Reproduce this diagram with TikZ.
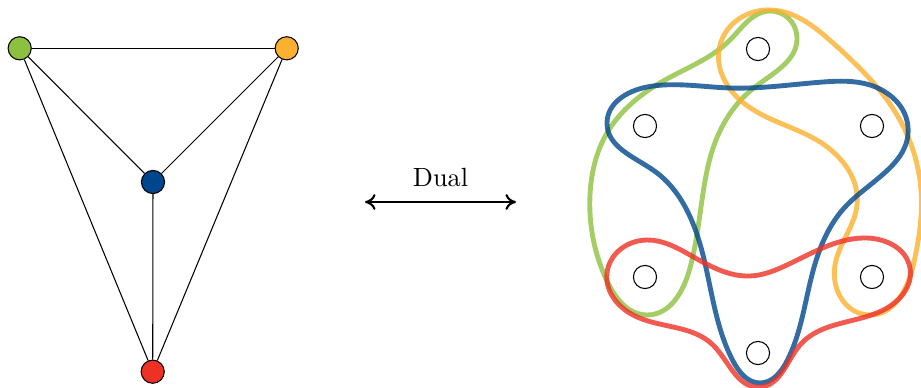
\documentclass[tikz,border=0pt]{standalone}
\usetikzlibrary{arrows.meta,hobby}
\definecolor{cgreen}{RGB}{141,192,63}
\definecolor{corange}{RGB}{251,176,48}
\definecolor{cblue}{RGB}{0,70,140}
\definecolor{cred}{RGB}{238,49,36}
\tikzset{
  vert/.style={circle,draw=black,line width=0.4pt,minimum size=8.8pt,inner sep=0pt},
  gedge/.style={line width=0.4pt,draw=black},
  hedge/.style={line width=1.85pt,draw opacity=0.8,line join=round,use Hobby shortcut,closed=true},
}
\begin{document}
\begin{tikzpicture}[x=0.38pt,y=-0.38pt]
\useasboundingbox (0,0) rectangle (921,388);
% left graph
\node[vert,fill=cgreen] (g) at (19.7,48.3) {};
\node[vert,fill=corange] (o) at (286.7,48.3) {};
\node[vert,fill=cblue] (b) at (153,182) {};
\node[vert,fill=cred] (r) at (152.7,371.7) {};
\draw[gedge] (g) -- (o);
\draw[gedge] (g) -- (b);
\draw[gedge] (g) -- (r);
\draw[gedge] (o) -- (b);
\draw[gedge] (o) -- (r);
\draw[gedge] (b) -- (r);
% arrow
\coordinate (al) at (365,202);
\coordinate (ar) at (516,202);
\draw[line width=0.8pt,{To[length=4pt,width=6pt]}-{To[length=4pt,width=6pt]}] (al) -- node[above=2pt,font=\normalsize] {Dual} (ar);
% hyperedges
\draw[hedge,draw=cgreen] (770,11) .. (797,37) .. (755,87) .. (716,140) .. (702,200)
 .. (690,268) .. (647,315) .. (607,281) .. (590,195) .. (607,133) .. (665,80) .. (730,40);
\draw[hedge,draw=corange] (772,10) .. (720,45) .. (740,100) .. (820,142) .. (857,205)
 .. (835,265) .. (870,315) .. (914,262) .. (921,190) .. (897,115) .. (833,43);
\draw[hedge,draw=cblue] (607,123) .. (653,170) .. (703,255) .. (733,361) .. (760,383)
 .. (787,361) .. (813,271) .. (847,205) .. (908,127) .. (870,85) .. (823,82)
 .. (730,88) .. (647,87);
\draw[hedge,draw=cred] (607,273) .. (633,315) .. (713,345) .. (760,387) .. (800,345)
 .. (887,308) .. (910,268) .. (863,238) .. (787,265) .. (750,276) .. (690,255) .. (647,240);
% right vertices
\node[vert,fill=white] (v1) at (758,49) {};
\node[vert,fill=white] (v2) at (645,126) {};
\node[vert,fill=white] (v3) at (872,126) {};
\node[vert,fill=white] (v4) at (645,277) {};
\node[vert,fill=white] (v5) at (872,277) {};
\node[vert,fill=white] (v6) at (758,353) {};
\end{tikzpicture}
\end{document}
